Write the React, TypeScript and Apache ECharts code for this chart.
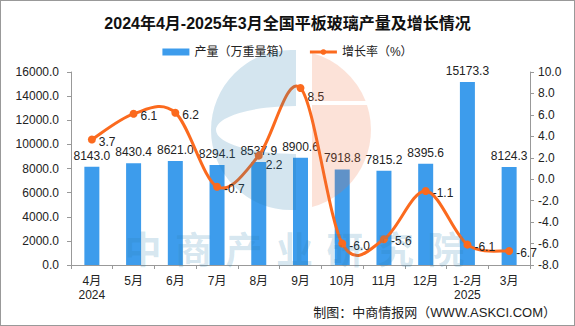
import React, { useEffect, useRef } from "react";
import * as echarts from "echarts";

const categories = ["4月\n2024", "5月", "6月", "7月", "8月", "9月", "10月", "11月", "12月", "1-2月\n2025", "3月"];
const production = [8143.0, 8430.4, 8621.0, 8294.1, 8537.9, 8900.6, 7918.8, 7815.2, 8395.6, 15173.3, 8124.3];
const growth = [3.7, 6.1, 6.2, -0.7, 2.2, 8.5, -6.0, -5.6, -1.1, -6.1, -6.7];
const titleText = "2024年4月-2025年3月全国平板玻璃产量及增长情况";
const seriesNames = ["产量（万重量箱）", "增长率（%）"];
const footerText = "制图：中商情报网（WWW.ASKCI.COM）";
const watermarkChars = ["中", "商", "产", "业", "研", "究", "院"];

const FONT = "'Liberation Sans', 'Noto Sans CJK SC', sans-serif";
const LINE_COLOR = "#fb6a1e";

echarts.graphic.registerShape(
  "wmBlue",
  echarts.graphic.extendPath(
    "M295,49 L290,49 A80,80 0 0 0 290,209 L295,209 L295,153 A80,24 0 1 1 295,105 Z",
    {}
  )
);
echarts.graphic.registerShape(
  "wmOrangeTop",
  echarts.graphic.extendPath("M311,52 A80,80 0 0 1 364.6,100 L311,100 Z", {})
);
echarts.graphic.registerShape(
  "wmOrangeBot",
  echarts.graphic.extendPath("M311,104 L366,104 A80,80 0 0 1 311,206 Z", {})
);

export default function App() {
  const ref = useRef<HTMLDivElement>(null);
  useEffect(() => {
    if (!ref.current) return;
    const chart = echarts.init(ref.current, null, { renderer: "svg" });
    const wmOpacity = 0.2;
    const n = growth.length;
    // extra downward label shift for specific points (layout only)
    const labelShift: Record<number, number> = { 4: 7, 5: 7 };
    const graphics: any[] = [
      { type: "wmBlue", x: 0, y: 0, silent: true, z: 100, style: { fill: "#2a7fb0", opacity: wmOpacity } },
      { type: "wmOrangeTop", x: 0, y: 0, silent: true, z: 100, style: { fill: "#f0703a", opacity: wmOpacity } },
      { type: "wmOrangeBot", x: 0, y: 0, silent: true, z: 100, style: { fill: "#f0703a", opacity: wmOpacity } },
      ...watermarkChars.map((c, i) => ({
        type: "text",
        x: 142 + i * 50.5,
        y: 247,
        silent: true,
        z: 100,
        style: {
          text: c,
          fill: "#2a7fb0",
          opacity: wmOpacity,
          fontSize: 37,
          fontWeight: "bold",
          fontFamily: "'Noto Sans CJK SC', sans-serif",
          align: "center",
          verticalAlign: "middle",
        },
      })),
      {
        type: "text",
        right: 18,
        top: 305,
        style: { text: footerText, fill: "#222", fontSize: 13, fontFamily: FONT },
      },
    ];
    const renderCurve = (params: any, api: any) => {
      const i = params.dataIndex;
      if (i >= n - 1) return null;
      const pt = (j: number) => {
        const k = Math.max(0, Math.min(n - 1, j));
        return api.coord([k, growth[k]]);
      };
      const p0 = pt(i - 1);
      const p1 = pt(i);
      const p2 = pt(i + 1);
      const p3 = pt(i + 2);
      const f = 1 / 6;
      return {
        type: "bezierCurve",
        shape: {
          x1: p1[0],
          y1: p1[1],
          x2: p2[0],
          y2: p2[1],
          cpx1: p1[0] + (p2[0] - p0[0]) * f,
          cpy1: p1[1] + (p2[1] - p0[1]) * f,
          cpx2: p2[0] - (p3[0] - p1[0]) * f,
          cpy2: p2[1] - (p3[1] - p1[1]) * f,
        },
        style: { stroke: LINE_COLOR, lineWidth: 3, fill: "none" },
        silent: true,
      };
    };
    const lineData = growth.map((v, i) =>
      labelShift[i] ? { value: v, label: { offset: [0, 2 + labelShift[i]] } } : v
    );
    chart.setOption({
      animation: false,
      textStyle: { fontFamily: FONT },
      title: {
        text: titleText,
        left: "center",
        top: 9,
        textStyle: { fontSize: 16, fontWeight: "bold", color: "#111", fontFamily: FONT },
      },
      legend: {
        top: 40,
        left: "center",
        itemWidth: 27,
        itemHeight: 7,
        itemGap: 18,
        textStyle: { fontSize: 12, color: "#222" },
        data: [
          { name: seriesNames[0], icon: "rect" },
          { name: seriesNames[1], lineStyle: { color: LINE_COLOR, width: 3, opacity: 1, type: "solid" } },
        ],
      },
      grid: { left: 70, right: 44, top: 71, bottom: 60 },
      xAxis: {
        type: "category",
        data: categories,
        axisLine: { lineStyle: { color: "#999" } },
        axisTick: { show: true, length: 4, lineStyle: { color: "#999" } },
        axisLabel: { color: "#222", fontSize: 12, margin: 9, lineHeight: 14, interval: 0 },
      },
      yAxis: [
        {
          type: "value",
          min: 0,
          max: 16000,
          interval: 2000,
          axisLine: { show: true, lineStyle: { color: "#999" } },
          axisTick: { show: true, length: 4, lineStyle: { color: "#999" } },
          axisLabel: { color: "#222", fontSize: 12, margin: 12, formatter: (v: number) => v.toFixed(1) },
          splitLine: { show: false },
        },
        {
          type: "value",
          position: "right",
          min: -8,
          max: 10,
          interval: 2,
          axisLine: { show: true, lineStyle: { color: "#999" } },
          axisTick: { show: true, length: 4, lineStyle: { color: "#999" } },
          axisLabel: { color: "#222", fontSize: 12, margin: 8, formatter: (v: number) => v.toFixed(1) },
          splitLine: { show: false },
        },
      ],
      series: [
        {
          name: seriesNames[0],
          type: "bar",
          data: production,
          barWidth: 15,
          itemStyle: { color: "#3d9cec" },
          label: {
            show: true,
            position: "top",
            distance: 5,
            color: "#222",
            fontSize: 12,
            formatter: (p: any) => Number(p.value).toFixed(1),
          },
        },
        {
          name: "curve",
          type: "custom",
          yAxisIndex: 1,
          data: growth.map((v, i) => [i, v]),
          encode: { x: 0, y: 1 },
          renderItem: renderCurve,
          z: 3,
          silent: true,
        },
        {
          name: seriesNames[1],
          type: "line",
          yAxisIndex: 1,
          data: lineData,
          symbol: "circle",
          symbolSize: 8,
          itemStyle: { color: LINE_COLOR },
          lineStyle: { color: LINE_COLOR, width: 3, opacity: 0 },
          label: {
            show: true,
            position: "right",
            distance: 3,
            offset: [0, 2],
            color: "#222",
            fontSize: 12,
            formatter: (p: any) => Number(p.value).toFixed(1),
          },
          z: 4,
        },
      ],
      graphic: graphics,
    });
    return () => chart.dispose();
  }, []);
  return (
    <div
      style={{
        position: "fixed",
        left: 0,
        top: 0,
        width: 575,
        height: 326,
        boxSizing: "border-box",
        border: "1px solid #999",
        background: "#fff",
      }}
    >
      <div ref={ref} style={{ width: 573, height: 324 }} />
    </div>
  );
}
